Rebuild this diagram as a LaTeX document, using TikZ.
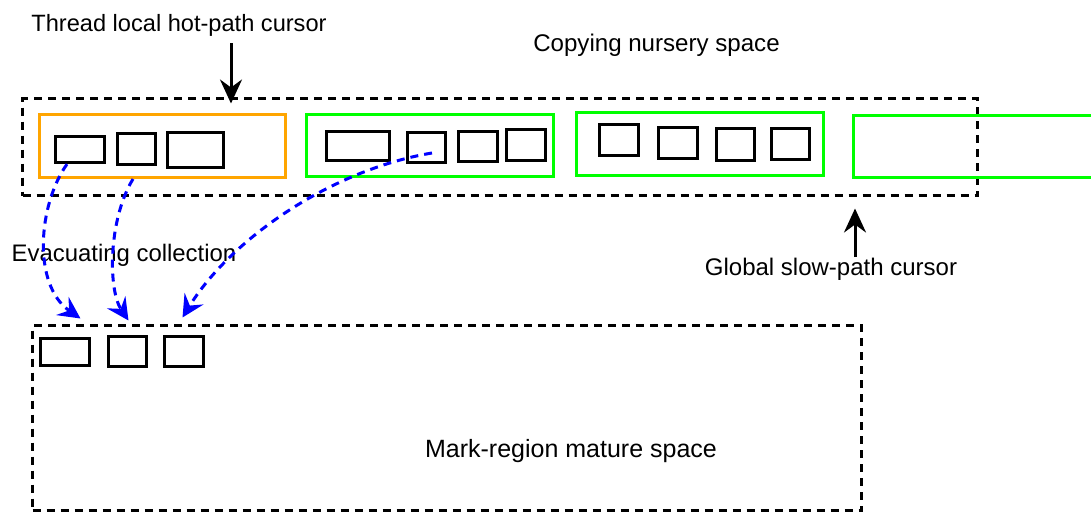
\documentclass[tikz,border=0pt]{standalone}
\usepackage{fontspec}
\setmainfont{Liberation Sans}
\usetikzlibrary{arrows.meta,calc}
\definecolor{dorange}{RGB}{255,165,0}
\definecolor{dgreen}{RGB}{0,255,0}
\definecolor{dblue}{RGB}{0,0,255}
\begin{document}
\begin{tikzpicture}[x=1pt,y=-1pt,
  box/.style 2 args={draw=black, line width=3.2pt, inner sep=0pt, minimum width=#1pt, minimum height=#2pt},
  frame/.style n args={3}{draw=#1, line width=3pt, inner sep=0pt, minimum width=#2pt, minimum height=#3pt},
  region/.style 2 args={draw=black, line width=3pt, dash pattern=on 8pt off 6pt, inner sep=0pt, minimum width=#1pt, minimum height=#2pt},
  txt/.style={font=\fontsize{#1}{28}\selectfont, inner sep=0pt, anchor=base},
  cursor/.style={draw=black, line width=3pt, -{Stealth[length=24pt,width=22pt,inset=8pt]}},
  evac/.style={draw=dblue, line width=3pt, dash pattern=on 8pt off 6pt, -{Stealth[length=22pt,width=22pt,inset=8pt]}}]
\clip (0,0) rectangle (1091,514);
\fill[white] (0,0) rectangle (1091,514);

% nursery space
\node[region={955}{97}] (nursery) at (500,147) {};
\node[frame={dorange}{246}{63}] (tlab) at (162.5,146) {};
\node[box={49}{26}] (o1) at (80,149.5) {};
\node[box={38}{31}] (o2) at (136.5,149) {};
\node[box={56}{35}] (o3) at (195.5,150) {};

\node[frame={dgreen}{247}{62}] (blk1) at (430,145.5) {};
\node[box={63}{29}] (g1a) at (358,146) {};
\node[box={38}{30}] (g1b) at (426.5,147.5) {};
\node[box={39}{30}] (g1c) at (478,146.5) {};
\node[box={39}{31}] (g1d) at (526,145) {};

\node[frame={dgreen}{247}{63}] (blk2) at (700,144) {};
\node[box={39}{31}] (g2a) at (619,140) {};
\node[box={39}{31}] (g2b) at (678,143) {};
\node[box={38}{32}] (g2c) at (735.5,144.5) {};
\node[box={38}{31}] (g2d) at (790.5,144) {};

\node[frame={dgreen}{253}{62}] (blk3) at (980,146.5) {};

% mature space
\node[region={829}{185}] (mature) at (447,418) {};
\node[box={49}{27}] (m1) at (65,352) {};
\node[box={38}{30}] (m2) at (127.5,351.5) {};
\node[box={39}{30}] (m3) at (184,351.5) {};

% labels
\node[txt=23.6] (hotlab) at (179,31.5) {Thread local hot-path cursor};
\node[txt=24.1] (nurlab) at (656.5,51.5) {Copying nursery space};
\node[txt=23.9] (evlab) at (124,261.5) {Evacuating collection};
\node[txt=24] (slowlab) at (831,275) {Global slow-path cursor};
\node[txt=25] (matlab) at (571,457.5) {Mark-region mature space};

% cursors
\coordinate (hotcur) at (231,43);
\draw[cursor] (hotcur) -- ($(hotcur |- nursery.north)+(0,6.5)$);
\coordinate (slowcur) at (855,257);
\draw[cursor] (slowcur) -- ($(slowcur |- nursery.south)+(0,11.5)$);

% evacuation
\draw[evac] ([xshift=-13pt]o1.south) .. controls (38,205) and (32,285) .. ($(mature.north west)+(49.5,-5.5)$);
\draw[evac] ([xshift=-29.5pt]tlab.south) .. controls (108,220) and (108,290) .. ($(mature.north west)+(97.5,-3.5)$);
\draw[evac] ($(g1b.center)+(5.5,5.5)$) .. controls (330,170) and (230,240) .. ($(mature.north west)+(151.5,-6.5)$);
\end{tikzpicture}
\end{document}
